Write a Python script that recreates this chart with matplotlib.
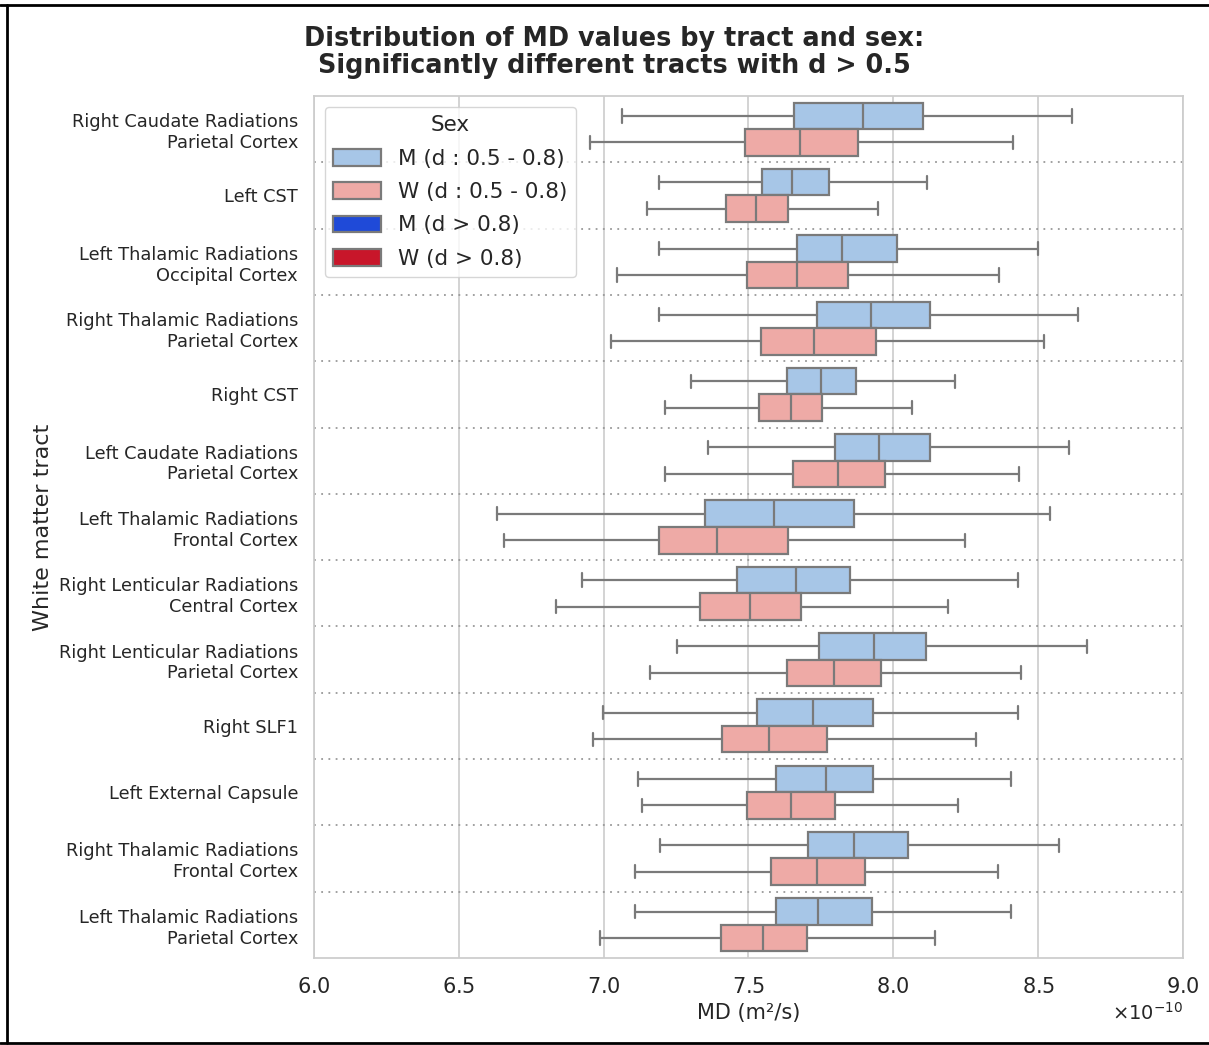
import numpy as np
import matplotlib
matplotlib.use("Agg")
import matplotlib.pyplot as plt
import seaborn as sns
from matplotlib.patches import Patch
from matplotlib.lines import Line2D
from matplotlib.ticker import ScalarFormatter

# Tracts (top to bottom)
tracts = [
    "Right Caudate Radiations\nParietal Cortex",
    "Left CST",
    "Left Thalamic Radiations\nOccipital Cortex",
    "Right Thalamic Radiations\nParietal Cortex",
    "Right CST",
    "Left Caudate Radiations\nParietal Cortex",
    "Left Thalamic Radiations\nFrontal Cortex",
    "Right Lenticular Radiations\nCentral Cortex",
    "Right Lenticular Radiations\nParietal Cortex",
    "Right SLF1",
    "Left External Capsule",
    "Right Thalamic Radiations\nFrontal Cortex",
    "Left Thalamic Radiations\nParietal Cortex",
]

# Box stats (x 1e-10 m2/s): whisker low, Q1, median, Q3, whisker high
m_lo  = [7.063, 7.191, 7.191, 7.191, 7.301, 7.360, 6.632, 6.925, 7.253, 6.997, 7.119, 7.195, 7.108]
m_q1  = [7.657, 7.547, 7.667, 7.736, 7.633, 7.799, 7.350, 7.460, 7.743, 7.529, 7.595, 7.705, 7.595]
m_med = [7.895, 7.650, 7.823, 7.923, 7.750, 7.951, 7.588, 7.664, 7.933, 7.723, 7.768, 7.864, 7.740]
m_q3  = [8.102, 7.778, 8.013, 8.127, 7.871, 8.127, 7.864, 7.850, 8.113, 7.930, 7.930, 8.051, 7.926]
m_hi  = [8.617, 8.116, 8.499, 8.638, 8.213, 8.606, 8.541, 8.430, 8.669, 8.430, 8.406, 8.572, 8.406]

w_lo  = [6.953, 7.150, 7.046, 7.025, 7.212, 7.212, 6.656, 6.835, 7.160, 6.963, 7.132, 7.108, 6.987]
w_q1  = [7.488, 7.422, 7.495, 7.543, 7.536, 7.654, 7.191, 7.333, 7.633, 7.409, 7.495, 7.578, 7.405]
w_med = [7.678, 7.526, 7.667, 7.726, 7.647, 7.809, 7.391, 7.505, 7.795, 7.571, 7.647, 7.736, 7.550]
w_q3  = [7.878, 7.636, 7.843, 7.940, 7.754, 7.971, 7.636, 7.681, 7.957, 7.771, 7.799, 7.902, 7.702]
w_hi  = [8.413, 7.947, 8.365, 8.520, 8.064, 8.434, 8.247, 8.189, 8.441, 8.285, 8.223, 8.361, 8.144]

legend_labels = ["M (d : 0.5 - 0.8)", "W (d : 0.5 - 0.8)", "M (d > 0.8)", "W (d > 0.8)"]
legend_colors = ["#a7c6e7", "#eeaaa6", "#1f4ad8", "#c8162a"]

sns.set_theme(style="whitegrid")
plt.rcParams["font.family"] = ["DejaVu Sans"]

fig, ax = plt.subplots(figsize=(12.09, 10.45), dpi=100)
fig.subplots_adjust(left=0.2597, right=0.9785, top=0.9081, bottom=0.0833)

edge = "#7a7a7a"
scale = 1e-10


def make_stats(lo, q1, med, q3, hi):
    return [dict(whislo=a * scale, q1=b * scale, med=c * scale, q3=d * scale,
                 whishi=e * scale, fliers=[]) for a, b, c, d, e in zip(lo, q1, med, q3, hi)]


pos = np.arange(len(tracts))
for stats, offset, color in [
    (make_stats(m_lo, m_q1, m_med, m_q3, m_hi), -0.2, legend_colors[0]),
    (make_stats(w_lo, w_q1, w_med, w_q3, w_hi), 0.2, legend_colors[1]),
]:
    ax.bxp(stats, positions=pos + offset, widths=0.4, orientation="horizontal",
           patch_artist=True, showfliers=False, manage_ticks=False,
           boxprops=dict(facecolor=color, edgecolor=edge, linewidth=1.6),
           medianprops=dict(color=edge, linewidth=1.6),
           whiskerprops=dict(color=edge, linewidth=1.6),
           capprops=dict(color=edge, linewidth=1.6))

# dotted separators between tracts
for i in range(len(tracts) - 1):
    ax.axhline(i + 0.5, color="#999999", linestyle=(0, (1, 3)), linewidth=1.3, zorder=1)

ax.set_yticks(pos)
ax.set_yticklabels(tracts, fontsize=12.8, color="#262626")
ax.set_ylim(len(tracts) - 0.5, -0.5)
ax.set_xlim(6.0e-10, 9.0e-10)
ax.set_xticks(np.arange(6.0, 9.01, 0.5) * scale)
fmt = ScalarFormatter(useMathText=True)
ax.xaxis.set_major_formatter(fmt)
ax.xaxis.get_offset_text().set_fontsize(14)
ax.tick_params(axis="x", labelsize=15, pad=8)
ax.tick_params(axis="y", pad=5.5)
ax.grid(axis="y", visible=False)
ax.grid(axis="x", color="#cccccc", linewidth=1.2)

ax.set_xlabel("MD (m²/s)", fontsize=15)
ax.set_ylabel("White matter tract", fontsize=16)
fig.suptitle("Distribution of MD values by tract and sex:\nSignificantly different tracts with d > 0.5",
             x=0.508, y=0.975, fontsize=18.4, fontweight="bold", linespacing=1.05, color="#262626")

handles = [Patch(facecolor=c, edgecolor=edge, linewidth=1.6) for c in legend_colors]
leg = ax.legend(handles, legend_labels, title="Sex", loc="upper left", fontsize=15.5,
                title_fontsize=15.5, frameon=True, handlelength=2.2, handleheight=0.8,
                labelspacing=0.62, borderaxespad=0.5)

# screenshot frame
fig.add_artist(Line2D([0, 1], [0.995, 0.995], transform=fig.transFigure, color="black", linewidth=2))
fig.add_artist(Line2D([0.006, 0.006], [0.002, 0.995], transform=fig.transFigure, color="black", linewidth=2))
fig.add_artist(Line2D([0, 1], [0.002, 0.002], transform=fig.transFigure, color="black", linewidth=2))

fig.savefig("out.png", dpi=100)
